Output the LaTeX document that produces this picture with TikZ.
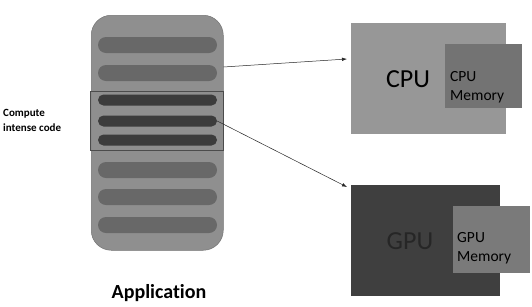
\documentclass[tikz,border=0pt]{standalone}
\usepackage{fontspec}
\setmainfont{Carlito}[Ligatures={NoCommon}]
\usetikzlibrary{arrows.meta}
\definecolor{appfill}{HTML}{8F8F8F}
\definecolor{pillfill}{HTML}{686868}
\definecolor{darkpill}{HTML}{3C3C3C}
\definecolor{cpufill}{HTML}{979797}
\definecolor{memfill}{HTML}{737373}
\definecolor{gpufill}{HTML}{3F3F3F}
\definecolor{gmemfill}{HTML}{7A7A7A}
\begin{document}
\begin{tikzpicture}[x=1pt,y=-1pt,
  pill/.style={fill=pillfill,draw=none,rounded corners=8pt,minimum width=119pt,minimum height=16pt,inner sep=0pt},
  dpill/.style={fill=darkpill,draw=none,rounded corners=5.5pt,minimum width=119pt,minimum height=11pt,inner sep=0pt},
  conn/.style={draw=black!85,line width=0.5pt,-{Latex[length=5pt,width=3.5pt]}},
  box/.style={inner sep=0pt,anchor=north west}]
\useasboundingbox (0,0) rectangle (532,306);
\fill[white] (0,0) rectangle (532,306);
% application container
\node[box,fill=appfill,draw=black!55,line width=0.5pt,rounded corners=20pt,minimum width=132pt,minimum height=235pt] (app) at (91,15) {};
\node[box,draw=black!70,line width=0.5pt,minimum width=133pt,minimum height=59pt] (hl) at (90,91) {};
\node[pill] (p1) at (157.5,45) {};
\node[pill] (p2) at (157.5,73) {};
\node[dpill] (d1) at (157.5,100) {};
\node[dpill] (d2) at (157.5,121) {};
\node[dpill] (d3) at (157.5,140) {};
\node[pill] (p3) at (157.5,170) {};
\node[pill] (p4) at (157.5,197) {};
\node[pill] (p5) at (157.5,225) {};
\node[font=\bfseries\fontsize{20}{24}\selectfont] (applbl) at (159,293) {Application};
\node[font=\bfseries\fontsize{11}{15}\selectfont,align=left,anchor=west,inner sep=0pt] (cic) at (3,120.5) {Compute\\intense code};
% CPU
\node[box,fill=cpufill,minimum width=155pt,minimum height=111pt] (cpu) at (351,23) {};
\node[box,fill=memfill,minimum width=77pt,minimum height=64pt] (cmem) at (445,44) {};
\node[font=\fontsize{26}{30}\selectfont] (cpulbl) at (408,79) {CPU};
\node[font=\fontsize{15.5}{19}\selectfont,align=left,anchor=north west,inner sep=0pt] (cmemlbl) at (450,71) {CPU\\Memory};
% GPU
\node[box,fill=gpufill,minimum width=149pt,minimum height=111pt] (gpu) at (351,185) {};
\node[box,fill=gmemfill,minimum width=77pt,minimum height=67pt] (gmem) at (453,206) {};
\node[font=\fontsize{26}{30}\selectfont,text=black!85] (gpulbl) at (410,241) {GPU};
\node[font=\fontsize{15.5}{19}\selectfont,align=left,anchor=north west,inner sep=0pt] (gmemlbl) at (457,232) {GPU\\Memory};
% connectors
\coordinate (a1s) at (app.east |- 0,67);
\coordinate (a1e) at (347,59);
\draw[conn] (a1s) -- (a1e);
\coordinate (a2e) at (347,187);
\draw[conn] (d2.east) -- (a2e);
\end{tikzpicture}
\end{document}
